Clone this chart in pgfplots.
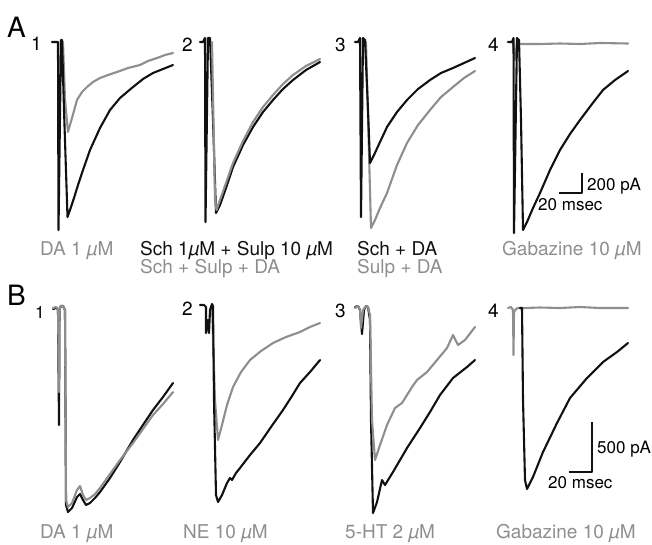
\documentclass[border=0pt]{standalone}
\usepackage{fontspec}
\setmainfont{TeX Gyre Heros}
\usepackage{pgfplots}
\pgfplotsset{compat=1.18}
\definecolor{tblk}{HTML}{111111}
\definecolor{tgry}{HTML}{8E8E8E}
\newcommand{\um}{{\itshape µ}}
\tikzset{lab/.style={inner sep=0pt,anchor=base west,font=\fontsize{19}{22}\selectfont},
  sc/.style={inner sep=0pt,anchor=base west,font=\fontsize{17}{20}\selectfont}}
\begin{document}
\begin{tikzpicture}
\begin{axis}[width=652pt,height=544pt,scale only axis,
  xmin=0,xmax=652,ymin=0,ymax=544,y dir=reverse,
  axis lines=none,clip=false,
  every axis plot/.append style={line join=round,line cap=round,line width=2.1pt,mark=none}]
\path[draw=none] (axis cs:0,0) rectangle (axis cs:652,544);
% ---------- A1 ----------
\addplot[tgry] coordinates {(63,42)(65,100)(68,132)(72,118)(77,100)(82,92)(87,87)(93,82)(100,78)(108,75)(117,72)(128,68)(140,65)(148,61)(157,58)(165,55)(173,53)};
\addplot[tblk] coordinates {(52,42)(56,42)(58,42)(58.5,230)(61,40)(62,40)(64,110)(67.5,217)(70,210)(74,198)(78,185)(83,170)(90,150)(100,128)(110,110)(120,98)(133,87)(143,79)(153,73)(163,69)(173,65)};
% ---------- A2 ----------
\addplot[tblk] coordinates {(200,42)(203,42)(205,38)(205.5,222)(208,38)(210,38)(213,120)(216,213)(220,205)(226,188)(233,167)(243,145)(253,127)(263,112)(273,100)(283,89)(293,80)(306,70)(320,62)};
\addplot[tgry] coordinates {(212,42)(215,200)(216.5,210)(220,200)(226,183)(233,163)(243,141)(253,122)(263,107)(273,95)(283,84)(293,75)(306,66)(320,59)};
% ---------- A3 ----------
\addplot[tgry] coordinates {(366,42)(371,228)(375,220)(380,208)(387,193)(397,165)(407,143)(418,125)(430,110)(441,97)(453,87)(464,78)(475,71)};
\addplot[tblk] coordinates {(355,42)(358,42)(360,38)(361,217)(363,38)(365,40)(368,110)(370,163)(374,155)(380,142)(387,127)(397,112)(407,100)(418,89)(430,80)(441,73)(453,68)(464,63)(475,58)};
% ---------- A4 ----------
\addplot[tgry] coordinates {(510,42)(513,42)(515,60)(517,42)(520,44)(540,44)(560,43.5)(580,44)(600,43)(628,43.5)};
\addplot[tblk] coordinates {(508,42)(512,42)(513.5,38)(514,233)(517,38)(519,40)(521,120)(523,230)(527,222)(533,208)(540,193)(550,170)(560,150)(570,134)(580,120)(592,104)(603,90)(615,80)(628,71)};
\addplot[tblk,line cap=butt] coordinates {(559,193)(582,193)(582,173)};
% ---------- B1 ----------
\addplot[tblk] coordinates {(53,309)(56,308)(58,309)(59,425)(59.5,309)(61,306)(63,306)(65,310)(66,505)(68,512)(72,508)(77,497)(80,494)(83,500)(86,505)(90,503)(95,498)(100,492)(110,478)(120,462)(133,440)(143,425)(153,410)(163,397)(173,383)};
\addplot[tgry] coordinates {(53,308)(56,307)(58,309)(59,392)(59.5,309)(61,306)(63,306)(65,310)(66,500)(68,507)(72,503)(77,490)(80,486)(83,495)(86,500)(90,498)(95,494)(100,488)(110,474)(120,460)(133,443)(143,429)(153,415)(163,404)(173,392)};
% ---------- B2 ----------
\addplot[tgry] coordinates {(212,306)(215,400)(218,440)(222,425)(227,405)(233,387)(241,372)(250,360)(261,351)(273,343)(286,337)(300,332)(310,327)(320,323)};
\addplot[tblk] coordinates {(200,305)(204,305)(206,307)(206,333)(208,320)(209,333)(210,310)(212,304)(213,306)(214,400)(216,495)(218,502)(222,495)(227,483)(230,478)(232,480)(236,473)(240,468)(250,455)(260,443)(271,427)(283,410)(292,396)(300,383)(310,372)(320,360)};
% ---------- B3 ----------
\addplot[tblk] coordinates {(355,307)(358,306)(360,310)(362,334)(364,310)(366,306)(368,307)(370,320)(371,420)(373,513)(377,502)(382,480)(385,485)(393,472)(407,448)(420,428)(430,412)(440,395)(453,378)(467,367)(475,360)};
\addplot[tgry] coordinates {(355,308)(358,306)(360,310)(361,328)(363,310)(366,306)(368,307)(370,315)(372,420)(375,460)(380,445)(387,425)(395,408)(402,403)(407,395)(412,387)(417,380)(427,372)(437,360)(447,348)(453,335)(458,345)(465,340)(475,327)};
% ---------- B4 ----------
\addplot[tgry] coordinates {(508,308)(511,307)(513,310)(513.5,355)(514,312)(516,309)(518,308)(525,308)(540,307.5)(560,308)(580,307)(600,308)(628,308)};
\addplot[tblk] coordinates {(520,308)(522,308)(523,400)(525,480)(527,489)(533,477)(543,452)(557,423)(570,398)(587,378)(603,362)(617,352)(628,343)};
\addplot[tblk,line cap=butt] coordinates {(569,472)(592,472)(592,422)};
% ---------- texts ----------
\node[inner sep=0pt,anchor=base west,font=\fontsize{28}{30}\selectfont] at (axis cs:7,37) {A};
\node[inner sep=0pt,anchor=base west,font=\fontsize{28}{30}\selectfont] at (axis cs:7,305) {B};
\node[lab] at (axis cs:31,50) {1};
\node[lab] at (axis cs:182,51) {2};
\node[lab] at (axis cs:335,51) {3};
\node[lab] at (axis cs:488,51) {4};
\node[inner sep=0pt,anchor=base west,font=\fontsize{17}{19}\selectfont] at (axis cs:35,318) {1};
\node[lab] at (axis cs:182,315) {2};
\node[lab] at (axis cs:335,317) {3};
\node[lab] at (axis cs:488,317) {4};
\node[lab,text=tgry] at (axis cs:40,255) {DA 1 \um M};
\node[lab,text=tblk] at (axis cs:140,255) {Sch 1\um M + Sulp 10 \um M};
\node[lab,text=tgry] at (axis cs:140,273) {Sch + Sulp + DA};
\node[lab,text=tblk] at (axis cs:357,255) {Sch + DA};
\node[lab,text=tgry] at (axis cs:357,273) {Sulp + DA};
\node[lab,text=tgry] at (axis cs:502,255) {Gabazine 10 \um M};
\node[lab,text=tgry] at (axis cs:40,538) {DA 1 \um M};
\node[lab,text=tgry] at (axis cs:183,538) {NE 10 \um M};
\node[lab,text=tgry] at (axis cs:345,538) {5-HT 2 \um M};
\node[lab,text=tgry] at (axis cs:496,538) {Gabazine 10 \um M};
\node[sc] at (axis cs:587,190) {200 pA};
\node[sc] at (axis cs:538,210) {20 msec};
\node[sc] at (axis cs:597,453) {500 pA};
\node[sc] at (axis cs:548,488) {20 msec};
\end{axis}
\end{tikzpicture}
\end{document}
